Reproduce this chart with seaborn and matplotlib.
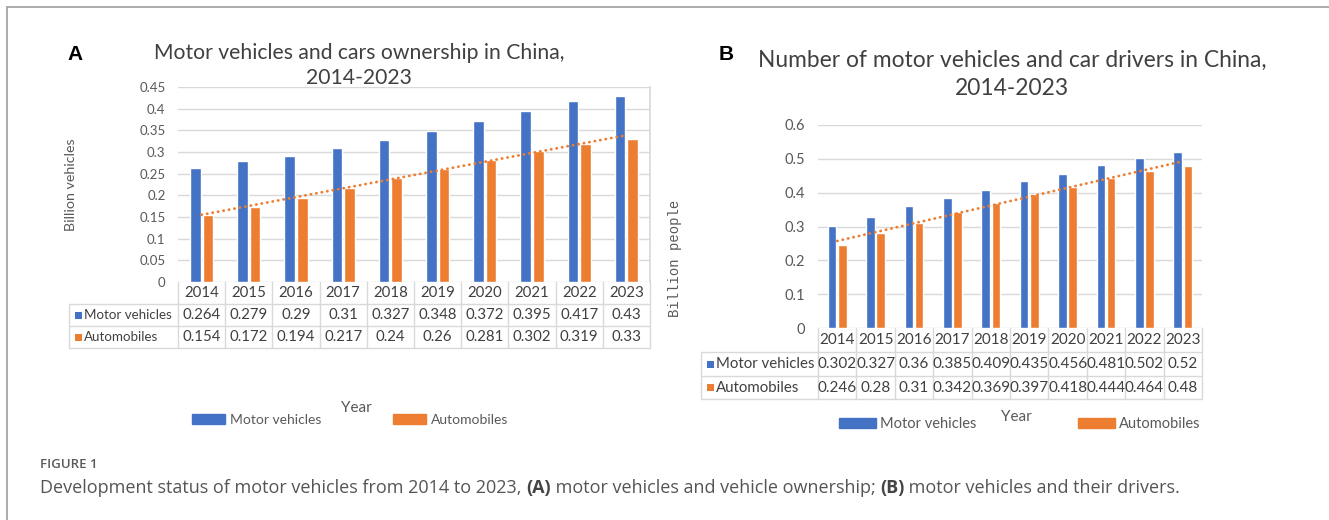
import numpy as np
import pandas as pd
import matplotlib
matplotlib.use("Agg")
import matplotlib.pyplot as plt
import matplotlib.transforms as mtransforms
from matplotlib.lines import Line2D
from matplotlib.patches import Patch, Rectangle
from matplotlib.text import Annotation
import seaborn as sns

# ---- data -----------------------------------------------------------------
years = [str(y) for y in range(2014, 2024)]
series_names = ["Motor vehicles", "Automobiles"]

# (A) ownership, billion vehicles
own_motor = [0.264, 0.279, 0.29, 0.31, 0.327, 0.348, 0.372, 0.395, 0.417, 0.43]
own_auto = [0.154, 0.172, 0.194, 0.217, 0.24, 0.26, 0.281, 0.302, 0.319, 0.33]

# (B) drivers, billion people
drv_motor = [0.302, 0.327, 0.36, 0.385, 0.409, 0.435, 0.456, 0.481, 0.502, 0.52]
drv_auto = [0.246, 0.28, 0.31, 0.342, 0.369, 0.397, 0.418, 0.444, 0.464, 0.48]

# ---- style ----------------------------------------------------------------
BLUE = "#4472C4"
ORANGE = "#ED7D31"
GRID = "#D9D9D9"
TXT = "#595959"
DARK = "#404040"

W, H = 1329, 520
sns.set_theme(style="white")
plt.rcParams["font.family"] = ["Lato", "DejaVu Sans"]

fig = plt.figure(figsize=(W / 100, H / 100), dpi=100)


def fx(x):
    return x / W


def fy(y):
    return 1 - y / H


def fmt(v):
    return f"{round(v, 3):g}"


def draw_panel(box, motor, auto, ymax, ystep, tbl_left, rows, tick_size,
               cell_size, label_size, right_border):
    left, top, right, bottom = box
    ax = fig.add_axes([fx(left), fy(bottom), fx(right - left), (bottom - top) / H])

    df = pd.DataFrame({
        "Year": years * 2,
        "value": list(motor) + list(auto),
        "series": [series_names[0]] * len(years) + [series_names[1]] * len(years),
    })
    sns.barplot(data=df, x="Year", y="value", hue="series", order=years,
                hue_order=series_names, palette=[BLUE, ORANGE], saturation=1,
                width=0.53, gap=0.15, ax=ax, legend=False, errorbar=None)

    # linear trend of the automobile series
    idx = np.arange(len(years))
    sns.regplot(x=idx, y=np.asarray(auto), scatter=False, ci=None, truncate=True,
                ax=ax, line_kws=dict(color=ORANGE, lw=2.0, ls=(0, (0.1, 1.9)),
                                     dash_capstyle="round"))

    ax.set_xlim(-0.5, len(years) - 0.5)
    ax.set_ylim(0, ymax)
    ax.set_yticks(np.arange(0, ymax + 1e-9, ystep))
    ax.yaxis.set_major_formatter(lambda v, p: fmt(v))
    ax.set_xticks([])
    ax.set_xlabel("")
    ax.set_ylabel("")
    ax.grid(axis="y", color=GRID, lw=1)
    ax.set_axisbelow(True)
    for s in ax.spines.values():
        s.set_visible(False)
    if right_border:
        ax.spines["right"].set_visible(True)
        ax.spines["right"].set_color(GRID)
    ax.tick_params(axis="y", length=0, pad=9, labelcolor=TXT, labelsize=tick_size)

    # data table under the bars
    trans = mtransforms.blended_transform_factory(ax.transData, fig.transFigure)
    colw = (right - left) / len(years)
    x_tbl = -0.5 - (left - tbl_left) / colw
    x_end = len(years) - 0.5
    r0, r1, r2, r3 = rows
    lk = dict(color=GRID, lw=1, transform=trans, clip_on=False)
    for yy in (r1, r2, r3):
        ax.plot([x_tbl, x_end], [fy(yy), fy(yy)], **lk)
    for i in range(len(years) + 1):
        ax.plot([i - 0.5, i - 0.5], [fy(r0), fy(r3)], **lk)
    ax.plot([x_tbl, x_tbl], [fy(r1), fy(r3)], **lk)

    tk = dict(transform=trans, ha="center", va="center", color=DARK,
              size=cell_size, clip_on=False)
    for i, yr in enumerate(years):
        ax.text(i, fy((r0 + r1) / 2), yr, **tk)
        ax.text(i, fy((r1 + r2) / 2), fmt(motor[i]), **tk)
        ax.text(i, fy((r2 + r3) / 2), fmt(auto[i]), **tk)

    for (yc, name, col) in ((((r1 + r2) / 2), series_names[0], BLUE),
                            (((r2 + r3) / 2), series_names[1], ORANGE)):
        sq = 7
        fig.add_artist(Rectangle((fx(tbl_left + 6), fy(yc + sq / 2)), sq / W, sq / H,
                                 transform=fig.transFigure, color=col, lw=0))
        fig.text(fx(tbl_left + 15), fy(yc), name, ha="left", va="center",
                 color=DARK, size=label_size)
    return ax


# ---- panel A --------------------------------------------------------------
draw_panel((178, 87, 650, 282), own_motor, own_auto, 0.45, 0.05,
           tbl_left=69, rows=(282, 304, 326, 348), tick_size=9.5,
           cell_size=10.8, label_size=9.6, right_border=True)

fig.text(fx(75), fy(55), "A", ha="center", va="center", weight="bold",
         family="Liberation Sans", size=15, color="black")
fig.text(fx(359), fy(53), "Motor vehicles and cars ownership in China,",
         ha="center", va="center", size=15.2, color=DARK)
fig.text(fx(359), fy(78), "2014-2023", ha="center", va="center", size=15.2,
         color=DARK)
fig.text(fx(71), fy(185), "Billion vehicles", rotation=90, ha="center",
         va="center", size=10.3, color=TXT)
fig.text(fx(356), fy(408), "Year", ha="center", va="center", size=11, color=TXT)
fig.legend(handles=[Patch(color=BLUE), Patch(color=ORANGE)], labels=series_names,
           ncol=2, loc="center", bbox_to_anchor=(fx(350), fy(420)), frameon=False,
           handlelength=2.4, handleheight=0.75, handletextpad=0.3,
           columnspacing=5.2, fontsize=10, labelcolor=TXT)

# ---- panel B --------------------------------------------------------------
draw_panel((818, 125, 1202, 328), drv_motor, drv_auto, 0.6, 0.1,
           tbl_left=701, rows=(328, 352, 376, 399), tick_size=10.5,
           cell_size=11, label_size=10.8, right_border=False)

fig.text(fx(726), fy(55), "B", ha="center", va="center", weight="bold",
         family="Liberation Sans", size=15, color="black")
fig.text(fx(1012), fy(60), "Number of motor vehicles and car drivers in China,",
         ha="center", va="center", size=16.4, color=DARK)
fig.text(fx(1012), fy(88), "2014-2023", ha="center", va="center", size=16.4,
         color=DARK)
fig.text(fx(675), fy(258), "Billion people", rotation=90, ha="center",
         va="center", size=10, color=TXT, family="Liberation Mono")
fig.text(fx(1016), fy(417), "Year", ha="center", va="center", size=11, color=TXT)
fig.legend(handles=[Patch(color=BLUE), Patch(color=ORANGE)], labels=series_names,
           ncol=2, loc="center", bbox_to_anchor=(fx(1020), fy(424)), frameon=False,
           handlelength=2.5, handleheight=0.75, handletextpad=0.3,
           columnspacing=7.0, fontsize=10.5, labelcolor=TXT)

# ---- frame and caption ----------------------------------------------------
fig.add_artist(Line2D([fx(7), 1], [fy(7), fy(7)], color="#A6A6A6", lw=1.3,
                      transform=fig.transFigure))
fig.add_artist(Line2D([fx(7), fx(7)], [fy(7), 0], color="#A6A6A6", lw=1.3,
                      transform=fig.transFigure))

CAP = ["Open Sans", "DejaVu Sans"]
fig.text(fx(40), fy(465), "FIGURE 1", ha="left", va="center", size=9.5,
         weight="semibold", color="#5a5a5a", family=CAP)
parts = [
    ("Development status of motor vehicles from 2014 to 2023, ", "normal"),
    ("(A)", "bold"),
    (" motor vehicles and vehicle ownership; ", "normal"),
    ("(B)", "bold"),
    (" motor vehicles and their drivers.", "normal"),
]
t = fig.text(fx(40), fy(488), parts[0][0], ha="left", va="center", size=13,
             color="#555555", family=CAP)
for s, w in parts[1:]:
    t = fig.add_artist(Annotation(s, xy=(1, 0), xycoords=t, ha="left", va="bottom",
                                  size=13, weight=w, family=CAP,
                                  color="#444444" if w == "bold" else "#555555"))

fig.savefig("out.png", dpi=100)
